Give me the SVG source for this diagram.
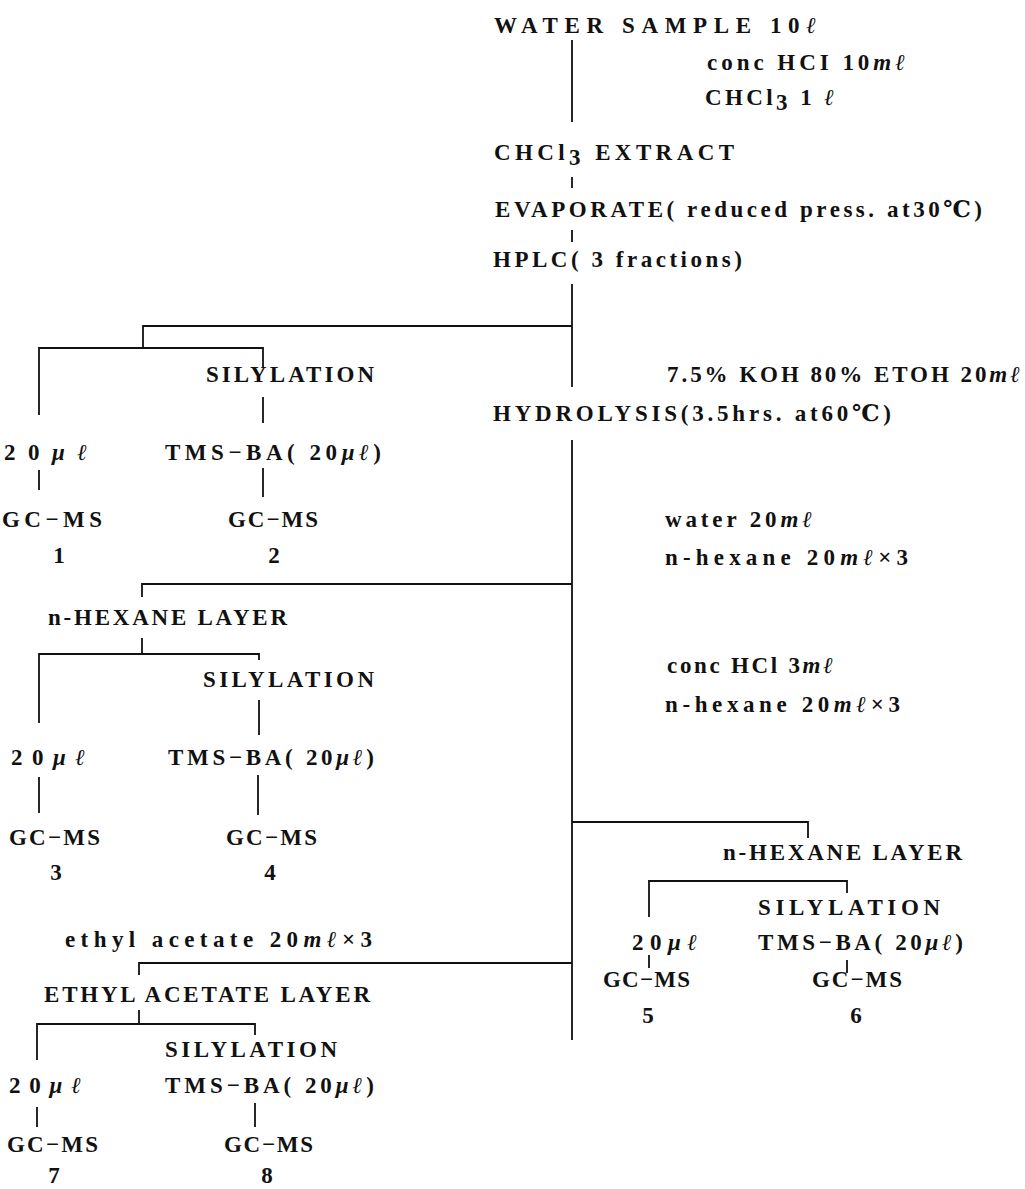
<svg xmlns="http://www.w3.org/2000/svg" width="1025" height="1189" viewBox="0 0 1025 1189">
<style>
text{font-family:"Liberation Serif","DejaVu Serif",serif;font-weight:bold;font-size:23px;fill:#111}
.it{font-style:italic}
.c{text-anchor:middle}
.ln{stroke:#111;stroke-width:1.8;fill:none}
</style>
<rect width="1025" height="1189" fill="#fff"/>
<g id="connectors" class="ln">
<path d="M572,40V122M572,177V188M572,230V242M572,284V387M572,440V1040"/>
<path d="M572,326H143V348M39,415V348H263V367M263,397V423M39,470V490M263,468V497"/>
<path d="M572,584H142V597M142,638V654M39,723V654H259V660M259,700V735M39,777V813M258,775V815"/>
<path d="M572,822H808V838M649,917V881H847V893M649,955V968M847,960V973"/>
<path d="M572,963H139V975M139,1010V1024M37,1060V1024H255V1035M37,1107V1127M255,1103V1127"/>
</g>
<g id="n-water"><text x="494" y="33" textLength="322">WATER SAMPLE 10<tspan class="it">ℓ</tspan></text></g>
<g id="n-reagent1"><text x="707" y="70" textLength="198">conc HCI 10<tspan class="it">mℓ</tspan></text>
<text x="705" y="105" textLength="129">CHCl<tspan dy="5">3</tspan><tspan dy="-5"> 1 </tspan><tspan class="it">ℓ</tspan></text></g>
<g id="n-extract"><text x="494" y="160" textLength="240">CHCl<tspan dy="5">3</tspan><tspan dy="-5">  EXTRACT</tspan></text></g>
<g id="n-evap"><text x="495" y="217" textLength="487">EVAPORATE( reduced press. at30℃)</text></g>
<g id="n-hplc"><text x="493" y="267" textLength="249">HPLC( 3 fractions)</text></g>
<g id="n-sil1"><text x="206" y="382" textLength="168">SILYLATION</text></g>
<g id="n-koh"><text x="667" y="382" textLength="353">7.5% KOH 80% ETOH 20<tspan class="it">mℓ</tspan></text></g>
<g id="n-hydro"><text x="493" y="421" textLength="398">HYDROLYSIS(3.5hrs. at60℃)</text></g>
<g id="n-s1"><text x="4" y="460" textLength="83">20<tspan class="it">μℓ</tspan></text></g>
<g id="n-tms1"><text x="165" y="460" textLength="216">TMS−BA( 20<tspan class="it">μℓ</tspan>)</text></g>
<g id="n-gc1"><text x="2" y="527" textLength="100">GC−MS</text><text class="c" x="59" y="563">1</text></g>
<g id="n-gc2"><text x="228" y="527" textLength="90">GC−MS</text><text class="c" x="274" y="563">2</text></g>
<g id="n-water2"><text x="665" y="527" textLength="147">water 20<tspan class="it">mℓ</tspan></text>
<text x="665" y="565" textLength="243">n-hexane 20<tspan class="it">mℓ</tspan>×3</text></g>
<g id="n-hex1"><text x="48" y="625" textLength="239">n-HEXANE LAYER</text></g>
<g id="n-sil2"><text x="203" y="687" textLength="171">SILYLATION</text></g>
<g id="n-s3"><text x="11" y="765" textLength="74">20<tspan class="it">μℓ</tspan></text></g>
<g id="n-tms2"><text x="168" y="765" textLength="206">TMS−BA( 20<tspan class="it">μℓ</tspan>)</text></g>
<g id="n-gc3"><text x="9" y="845" textLength="91">GC−MS</text><text class="c" x="56" y="880">3</text></g>
<g id="n-gc4"><text x="226" y="845" textLength="91">GC−MS</text><text class="c" x="270" y="880">4</text></g>
<g id="n-hcl"><text x="667" y="673" textLength="166">conc HCl 3<tspan class="it">mℓ</tspan></text>
<text x="665" y="712" textLength="235">n-hexane 20<tspan class="it">mℓ</tspan>×3</text></g>
<g id="n-hex2"><text x="723" y="860" textLength="239">n-HEXANE LAYER</text></g>
<g id="n-sil3"><text x="758" y="915" textLength="182">SILYLATION</text></g>
<g id="n-s5"><text x="632" y="950" textLength="65">20<tspan class="it">μℓ</tspan></text></g>
<g id="n-tms3"><text x="758" y="950" textLength="205">TMS−BA( 20<tspan class="it">μℓ</tspan>)</text></g>
<g id="n-gc5"><text x="603" y="987" textLength="87">GC−MS</text><text class="c" x="648" y="1023">5</text></g>
<g id="n-gc6"><text x="812" y="987" textLength="90">GC−MS</text><text class="c" x="856" y="1023">6</text></g>
<g id="n-ethyl"><text x="65" y="947" textLength="307">ethyl acetate 20<tspan class="it">mℓ</tspan>×3</text></g>
<g id="n-ea"><text x="44" y="1002" textLength="326">ETHYL ACETATE LAYER</text></g>
<g id="n-sil4"><text x="165" y="1057" textLength="172">SILYLATION</text></g>
<g id="n-s7"><text x="9" y="1093" textLength="72">20<tspan class="it">μℓ</tspan></text></g>
<g id="n-tms4"><text x="165" y="1093" textLength="209">TMS−BA( 20<tspan class="it">μℓ</tspan>)</text></g>
<g id="n-gc7"><text x="7" y="1152" textLength="91">GC−MS</text><text class="c" x="54" y="1183">7</text></g>
<g id="n-gc8"><text x="224" y="1152" textLength="89">GC−MS</text><text class="c" x="267" y="1183">8</text></g>
</svg>
